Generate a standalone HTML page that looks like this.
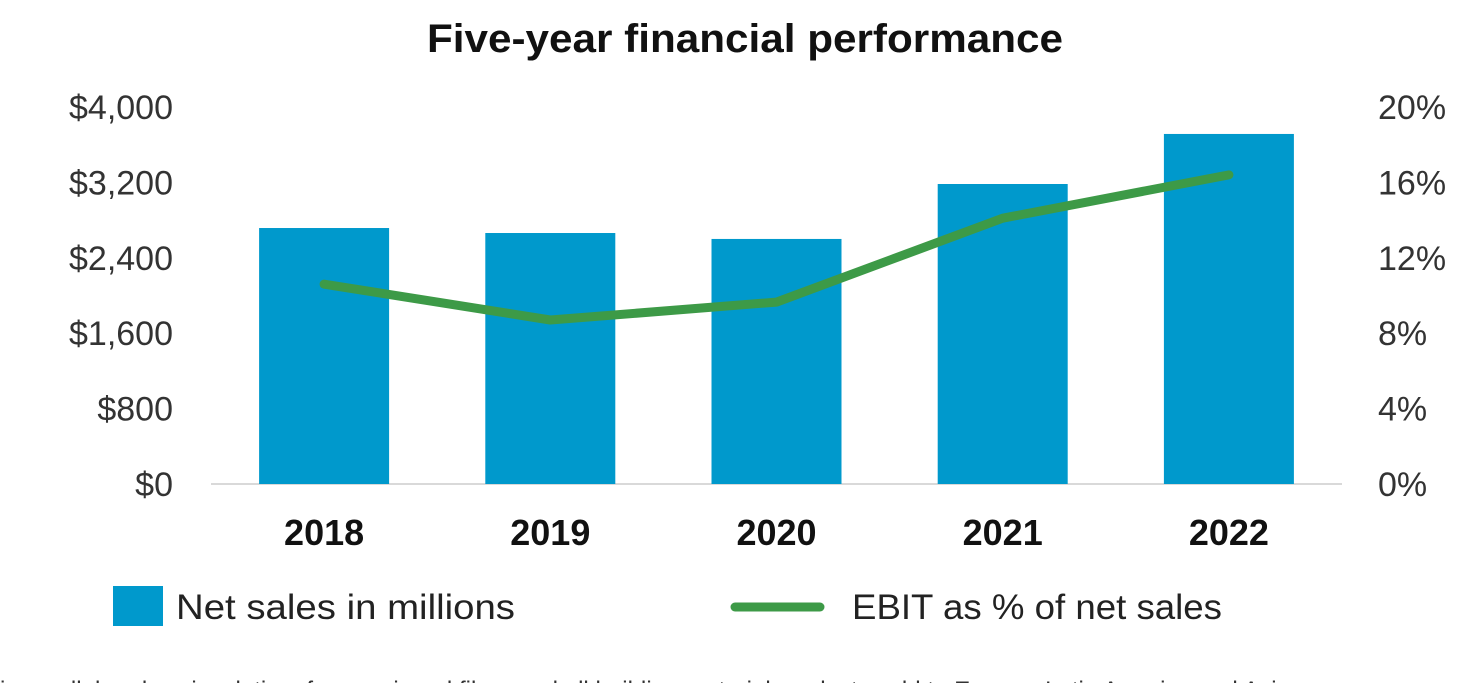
<!DOCTYPE html>
<html><head><meta charset="utf-8"><style>
html,body{margin:0;padding:0;background:#fff;width:1470px;height:683px;overflow:hidden;font-family:"Liberation Sans",sans-serif}
svg{display:block}
</style></head><body>
<svg id="chart" width="1470" height="683">
<text x="427" y="52" textLength="636" lengthAdjust="spacingAndGlyphs" font-size="40" font-weight="bold" fill="#111">Five-year financial performance</text>
<g id="axes"></g><g id="bars"></g><g id="line"></g>
<g>
<rect x="113" y="586" width="50" height="40" fill="#0099cc"/>
<text x="176" y="619" textLength="339" lengthAdjust="spacingAndGlyphs" font-size="35" fill="#222">Net sales in millions</text>
<line x1="735" y1="607" x2="820" y2="607" stroke="#3d9a47" stroke-width="9" stroke-linecap="round"/>
<text x="852" y="619" textLength="370" lengthAdjust="spacingAndGlyphs" font-size="35" fill="#222">EBIT as % of net sales</text>
</g>
<text x="0" y="698" textLength="1290" lengthAdjust="spacingAndGlyphs" font-size="24" fill="#333">ion, cellular glass insulation, foam, mineral fiber, and all building material products sold to Europe, Latin America and Asia</text>
</svg>
<script>
const categories = ["2018","2019","2020","2021","2022"];
const netSales = [2716,2663,2600,3183,3714];
const ebitPct = [10.6,8.7,9.65,14.1,16.4];
const leftTicks = [0,800,1600,2400,3200,4000];
const leftTickLabels = ["$0","$800","$1,600","$2,400","$3,200","$4,000"];
const rightTicks = [0,4,8,12,16,20];
const rightTickLabels = ["0%","4%","8%","12%","16%","20%"];

const NS="http://www.w3.org/2000/svg";
const x0=211,x1=1342,yB=484,yT=107;
const band=(x1-x0)/categories.length;
const xc=i=>x0+band*(i+0.5);
const yL=v=>yB-(v/4000)*(yB-yT);
const yR=v=>yB-(v/20)*(yB-yT);
function mk(t,a,p){const e=document.createElementNS(NS,t);for(const k in a)e.setAttribute(k,a[k]);p.appendChild(e);return e;}
const axes=document.getElementById('axes'),bars=document.getElementById('bars'),line=document.getElementById('line');
const base=mk('line',{x1:x0,x2:x1,y1:yB,y2:yB,stroke:'#d9d9d9','stroke-width':2},axes);


leftTicks.forEach((v,i)=>{const t=mk('text',{x:173,y:yL(v)+12,'text-anchor':'end','font-size':34,fill:'#333'},axes);t.textContent=leftTickLabels[i];

});
rightTicks.forEach((v,i)=>{const t=mk('text',{x:1378,y:yR(v)+12,'font-size':34,fill:'#333'},axes);t.textContent=rightTickLabels[i];

});
categories.forEach((c,i)=>{
const t=mk('text',{x:xc(i),y:545,'text-anchor':'middle','font-size':36,'font-weight':'bold',fill:'#111'},axes);t.textContent=c;


const w=130;const r=mk('rect',{x:xc(i)-w/2,y:yL(netSales[i]),width:w,height:yB-yL(netSales[i]),fill:'#0099cc'},bars);


});
const pts=ebitPct.map((v,i)=>xc(i)+','+yR(v)).join(' ');
const pl=mk('polyline',{points:pts,fill:'none',stroke:'#3d9a47','stroke-width':9,'stroke-linejoin':'round','stroke-linecap':'round'},line);


</script>
</body></html>
